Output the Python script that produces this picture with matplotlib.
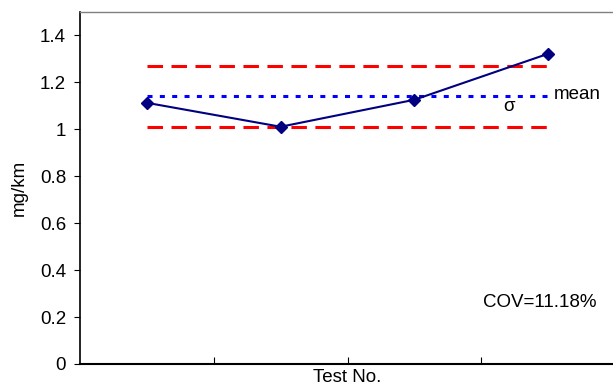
import matplotlib
matplotlib.use("Agg")
import matplotlib.pyplot as plt
import numpy as np

plt.rcParams['font.family'] = ['Liberation Sans', 'DejaVu Sans']

tests = [1, 2, 3, 4]
values = [1.113, 1.011, 1.126, 1.322]
mean_val = 1.143
upper_val = 1.271
lower_val = 1.011
cov_label = "COV=11.18%"
yticks = [0, 0.2, 0.4, 0.6, 0.8, 1.0, 1.2, 1.4]
ytick_labels = ["0", "0.2", "0.4", "0.6", "0.8", "1", "1.2", "1.4"]

fig = plt.figure(figsize=(6.13, 3.87), dpi=100)
W, H = 613, 387
left, right, top, bottom = 80, 615, 12, 364
ax = fig.add_axes([left / W, 1 - bottom / H, (right - left) / W, (bottom - top) / H])

ax.plot(tests, values, color='#000080', lw=1.5, marker='D', ms=6, zorder=3)
ax.plot([tests[0], tests[-1]], [upper_val] * 2, color='#FF0000', lw=2.2, dashes=(5.07, 2.78))
ax.plot([tests[0], tests[-1]], [lower_val] * 2, color='#FF0000', lw=2.2, dashes=(5.07, 2.78))
ax.plot([tests[0], tests[-1]], [mean_val] * 2, color='#0000FF', lw=2.2, dashes=(1.64, 2.40))

ax.set_xlim(0.5, 4.5)
ax.set_ylim(0, 1.5)
ax.set_yticks(yticks)
ax.set_yticklabels(ytick_labels, fontsize=13.5)
ax.set_xticks([1.5, 2.5, 3.5])
ax.set_xticklabels([])
ax.tick_params(axis='x', direction='in', length=5, color='black')
ax.tick_params(axis='y', direction='out', length=4, color='black', pad=6)

ax.spines['left'].set_color('black')
ax.spines['bottom'].set_color('black')
ax.spines['left'].set_linewidth(1.2)
ax.spines['bottom'].set_linewidth(1.5)
ax.spines['top'].set_color('#808080')
ax.spines['top'].set_linewidth(1.0)
ax.spines['right'].set_visible(False)

ax.set_xlabel("Test No.", fontsize=13.5, labelpad=0)
ax.set_ylabel("mg/km", fontsize=13.5, labelpad=9)

ax.text(4.04, mean_val + 0.005, "mean", fontsize=13.5, va='center', ha='left')
ax.text(3.707, 1.096, "σ", fontsize=13.5, va='center', ha='center')
ax.text(3.94, 0.264, cov_label, fontsize=13.5, va='center', ha='center')

fig.savefig("out.png", dpi=100)
